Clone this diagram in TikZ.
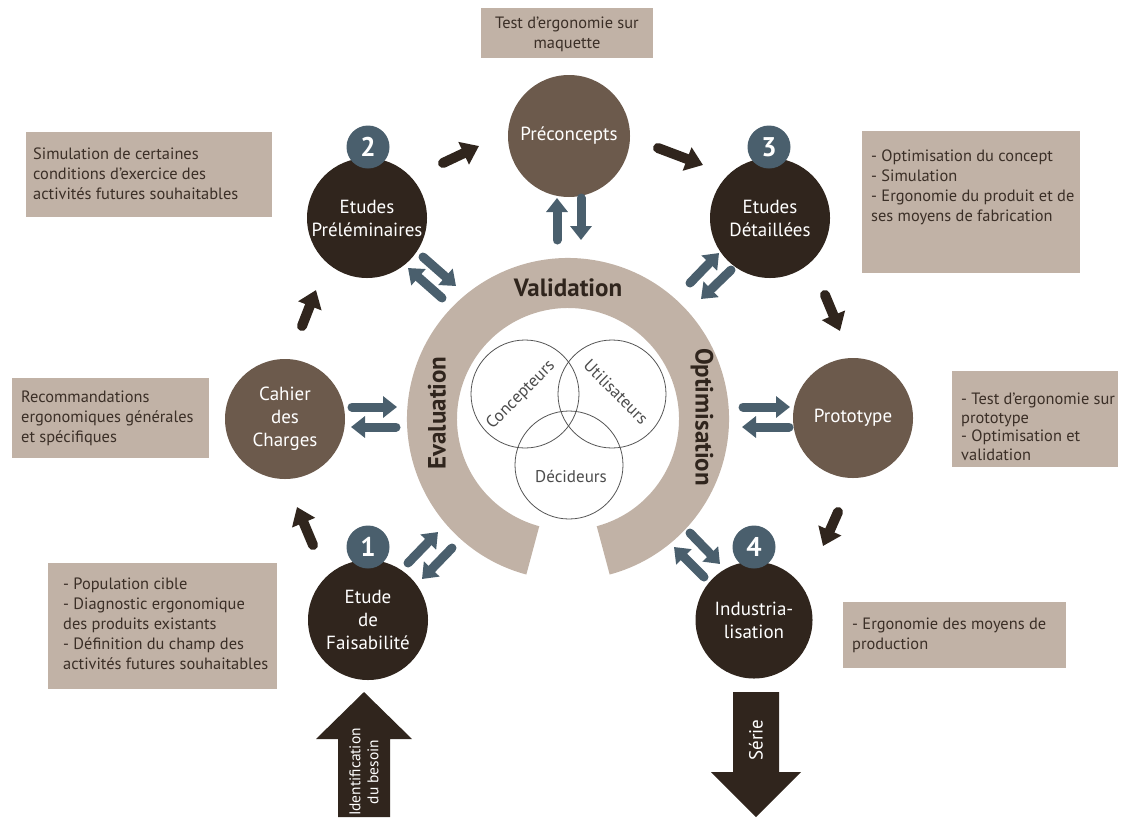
\documentclass[tikz,border=0pt]{standalone}
\usepackage{fontspec}
\setmainfont{PT Sans}
\usetikzlibrary{arrows.meta,calc}
\definecolor{darkc}{HTML}{30251D}
\definecolor{medc}{HTML}{6C5A4C}
\definecolor{beige}{HTML}{C1B2A6}
\definecolor{bluec}{HTML}{4A5F6D}
\definecolor{boxtxt}{HTML}{3B2F27}
\definecolor{venn}{HTML}{555555}
\tikzset{
  darkcirc/.style={circle, fill=darkc, text=white, inner sep=0pt, minimum size=120pt, align=center, font=\fontsize{19}{23}\selectfont},
  medcirc/.style={circle, fill=medc, text=white, inner sep=0pt, minimum size=120pt, align=center, font=\fontsize{19}{23}\selectfont},
  badge/.style={circle, fill=bluec, text=white, inner sep=0pt, minimum size=43pt, font=\bfseries\fontsize{27}{27}\selectfont},
  boxbg/.style={rectangle, fill=beige, inner sep=0pt},
  boxtext/.style={inner sep=0pt, text=boxtxt, align=left, font=\fontsize{16.4}{20}\selectfont},
  darr/.style={draw=darkc, line width=10pt, line cap=round, -{Triangle[width=24pt,length=17pt]}},
  barr/.style={draw=bluec, line width=9pt, line cap=round, -{Triangle[width=21pt,length=14pt]}},
  vcirc/.style={circle, draw=venn, line width=0.8pt, minimum size=108pt, inner sep=0pt},
  vtext/.style={text=venn!90!black, font=\fontsize{17}{19}\selectfont, inner sep=0pt},
  ringtext/.style={text=darkc, font=\bfseries\fontsize{25}{27}\selectfont, inner sep=0pt},
}
\begin{document}
\begin{tikzpicture}[x=1pt,y=-1pt]
\useasboundingbox (0,0) rectangle (1123,817);

% central ring
\coordinate (rc) at (568,419);
\fill[beige] ($(rc)+(105:161)$) arc[start angle=105,end angle=435,radius=161]
  -- ($(rc)+(75:111)$) arc[start angle=435,end angle=105,radius=111] -- cycle;
\node[ringtext] (val) at (568,288) {Validation};
\node[ringtext, rotate=90] (eval) at (437,413) {Evaluation};
\node[ringtext, rotate=-90] (opti) at (702,417) {Optimisation};

% Venn
\node[vcirc] (vc) at (525,394) {};
\node[vcirc] (vu) at (612,394) {};
\node[vcirc] (vd) at (569,465) {};
\node[vtext, rotate=45] (tc) at (521,395) {Concepteurs};
\node[vtext, rotate=-45] (tu) at (616,392) {Utilisateurs};
\node[vtext] (td) at (571,476) {Décideurs};

% main circles
\node[medcirc, minimum size=122pt] (pre) at (569,136) {Préconcepts};
\node[darkcirc] (prel) at (367,218) {Etudes\\Préléminaires};
\node[darkcirc] (det) at (770,218) {Etudes\\Détaillées};
\node[medcirc] (cah) at (285,419) {Cahier\\des\\Charges};
\node[medcirc] (proto) at (853,418) {Prototype};
\node[darkcirc] (fais) at (368,620) {Etude\\de\\Faisabilité};
\node[darkcirc, minimum size=117pt] (ind) at (754,620) {Industria-\\lisation};

% badges
\node[badge] (b2) at (368,147) {2};
\node[badge] (b3) at (769,147) {3};
\node[badge] (b1) at (368,547) {1};
\node[badge] (b4) at (754,547) {4};

% boxes
\node[boxbg, minimum width=172pt, minimum height=50pt] (bx0) at (567,33) {};
\node[boxtext, align=center] (tx0) at (567,34) {Test d’ergonomie sur\\maquette};

\node[boxbg, minimum width=246pt, minimum height=85pt] (bx1) at (149,174.5) {};
\node[boxtext, anchor=north west] (tx1) at (33,148) {Simulation de certaines\\conditions d’exercice des\\activités futures souhaitables};

\node[boxbg, minimum width=218pt, minimum height=142pt] (bx2) at (971,202) {};
\node[boxtext, anchor=north west] (tx2) at (871,150) {- Optimisation du concept\\- Simulation\\- Ergonomie du produit et de\\ses moyens de fabrication};

\node[boxbg, minimum width=197pt, minimum height=80pt] (bx3) at (110.5,418) {};
\node[boxtext, anchor=north west] (tx3) at (21,391) {Recommandations\\ergonomiques générales\\et spécifiques};

\node[boxbg, minimum width=166pt, minimum height=96pt] (bx4) at (1035,419) {};
\node[boxtext, anchor=north west, font=\fontsize{16.4}{18.5}\selectfont] (tx4) at (961,393) {- Test d’ergonomie sur\\prototype\\- Optimisation et\\validation};

\node[boxbg, minimum width=229pt, minimum height=126pt] (bx5) at (162.5,626) {};
\node[boxtext, anchor=north west] (tx5) at (63,578) {- Population cible\\- Diagnostic ergonomique\\des produits existants\\- Définition du champ des\\activités futures souhaitables};

\node[boxbg, minimum width=223pt, minimum height=66pt] (bx6) at (954.5,635) {};
\node[boxtext, anchor=north west] (tx6) at (852,618) {- Ergonomie des moyens de\\production};

% dark arrows between steps
\coordinate (d1s) at (313,545); \coordinate (d1e) at (297,507);
\coordinate (d2s) at (302,326); \coordinate (d2e) at (316,290);
\coordinate (d3s) at (443,163); \coordinate (d3e) at (479,146);
\coordinate (d4s) at (658,148); \coordinate (d4e) at (703,165);
\coordinate (d5s) at (825,295); \coordinate (d5e) at (840,331);
\coordinate (d6s) at (838,512); \coordinate (d6e) at (823,546);
\draw[darr] (d1s) -- (d1e);
\draw[darr] (d2s) -- (d2e);
\draw[darr] (d3s) -- (d3e);
\draw[darr] (d4s) -- (d4e);
\draw[darr] (d5s) -- (d5e);
\draw[darr] (d6s) -- (d6e);

% blue double arrows
\coordinate (u1s) at (557,240); \coordinate (u1e) at (557,198);
\coordinate (u2s) at (581,198); \coordinate (u2e) at (581,240);
\draw[barr] (u1s) -- (u1e); \draw[barr] (u2s) -- (u2e);

\coordinate (p1s) at (423,257); \coordinate (p1e) at (456,286);
\coordinate (p2s) at (442,298); \coordinate (p2e) at (408,268);
\draw[barr] (p1s) -- (p1e); \draw[barr] (p2s) -- (p2e);

\coordinate (q1s) at (690,283); \coordinate (q1e) at (719,253);
\coordinate (q2s) at (731,270); \coordinate (q2e) at (701,299);
\draw[barr] (q1s) -- (q1e); \draw[barr] (q2s) -- (q2e);

\coordinate (c1s) at (352,407); \coordinate (c1e) at (397,407);
\coordinate (c2s) at (396,427); \coordinate (c2e) at (351,427);
\draw[barr] (c1s) -- (c1e); \draw[barr] (c2s) -- (c2e);

\coordinate (r1s) at (743,407); \coordinate (r1e) at (790,407);
\coordinate (r2s) at (789,427); \coordinate (r2e) at (742,427);
\draw[barr] (r1s) -- (r1e); \draw[barr] (r2s) -- (r2e);

\coordinate (f1s) at (408,563); \coordinate (f1e) at (438,532);
\coordinate (f2s) at (452,548); \coordinate (f2e) at (422,579);
\draw[barr] (f1s) -- (f1e); \draw[barr] (f2s) -- (f2e);

\coordinate (i1s) at (690,533); \coordinate (i1e) at (720,564);
\coordinate (i2s) at (704,577); \coordinate (i2e) at (674,547);
\draw[barr] (i1s) -- (i1e); \draw[barr] (i2s) -- (i2e);

% big entry / exit arrows
\fill[darkc] (338,817) -- (338,739) -- (316,739) -- (364,692) -- (412,739) -- (390,739) -- (390,817) -- cycle;
\node[text=white, rotate=90, align=center, inner sep=0pt, font=\fontsize{15.5}{18}\selectfont] (ident) at (364,772) {Identification\\du besoin};

\fill[darkc] (733,692) -- (779,692) -- (779,772) -- (801,772) -- (756,817) -- (711,772) -- (733,772) -- cycle;
\node[text=white, rotate=90, inner sep=0pt, font=\fontsize{19}{21}\selectfont] (serie) at (756,740) {Série};
\end{tikzpicture}
\end{document}
